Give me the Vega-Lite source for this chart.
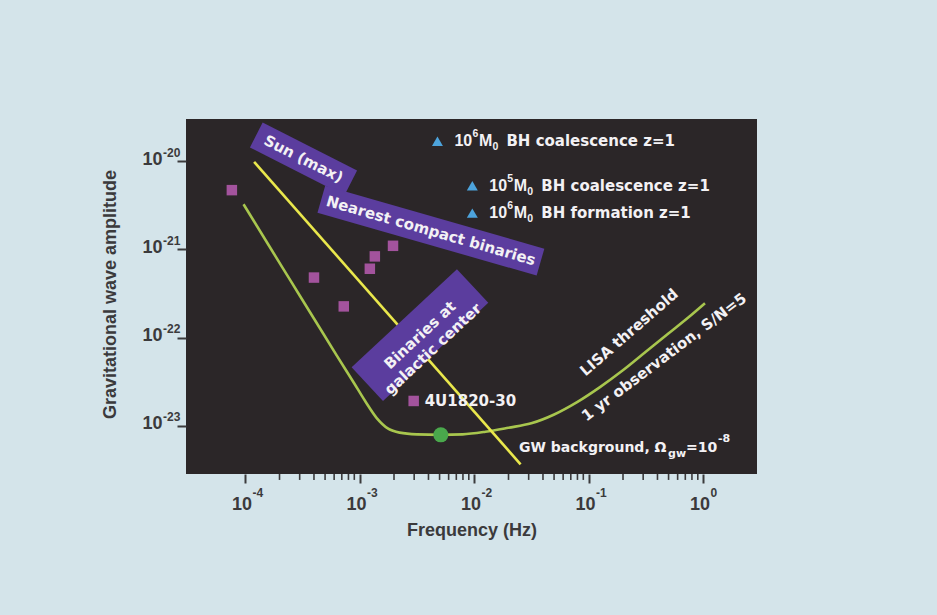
{
  "$schema": "https://vega.github.io/schema/vega-lite/v6.json",
  "width": 571,
  "height": 355,
  "autosize": "none",
  "padding": {"left": 186, "top": 119, "right": 180, "bottom": 141},
  "background": "#d4e4ea",
  "config": {
    "view": {"fill": "#2b2628", "stroke": null},
    "font": "Liberation Sans",
    "text": {"font": "DejaVu Sans", "fontWeight": "bold", "fontSize": 15, "fill": "#f3f1f4"}
  },
  "datasets": {
    "lisa": [
      {"f": 9.70e-5, "h": 3.236e-21},
      {"f": 1.585e-4, "h": 1.148e-21},
      {"f": 2.512e-4, "h": 4.365e-22},
      {"f": 3.981e-4, "h": 1.660e-22},
      {"f": 6.310e-4, "h": 6.310e-23},
      {"f": 8.913e-4, "h": 3.090e-23},
      {"f": 1.122e-3, "h": 1.905e-23},
      {"f": 1.413e-3, "h": 1.230e-23},
      {"f": 1.778e-3, "h": 9.33e-24},
      {"f": 2.239e-3, "h": 8.41e-24},
      {"f": 3.162e-3, "h": 8.04e-24},
      {"f": 5.129e-3, "h": 7.94e-24},
      {"f": 7.943e-3, "h": 8.04e-24},
      {"f": 1.259e-2, "h": 8.61e-24},
      {"f": 1.995e-2, "h": 9.55e-24},
      {"f": 3.162e-2, "h": 1.072e-23},
      {"f": 5.012e-2, "h": 1.349e-23},
      {"f": 7.943e-2, "h": 1.862e-23},
      {"f": 0.1259, "h": 2.754e-23},
      {"f": 0.1995, "h": 4.266e-23},
      {"f": 0.3162, "h": 6.918e-23},
      {"f": 0.5012, "h": 1.122e-22},
      {"f": 0.7943, "h": 1.820e-22},
      {"f": 1.040, "h": 2.455e-22}
    ],
    "sun": [
      {"f": 1.20e-4, "h": 9.8e-21},
      {"f": 2.55e-2, "h": 3.68e-24}
    ],
    "binaries": [
      {"f": 7.67e-5, "h": 4.68e-21, "label": ""},
      {"f": 4.0e-4, "h": 4.79e-22, "label": ""},
      {"f": 7.28e-4, "h": 2.26e-22, "label": ""},
      {"f": 1.23e-3, "h": 6.03e-22, "label": ""},
      {"f": 1.36e-3, "h": 8.32e-22, "label": ""},
      {"f": 1.96e-3, "h": 1.096e-21, "label": ""},
      {"f": 2.97e-3, "h": 1.92e-23, "label": "4U1820-30"}
    ],
    "background": [
      {"f": 5.129e-3, "h": 7.94e-24}
    ],
    "blackholes": [
      {"f": 4.79e-3, "h": 1.67e-20, "exp": "6", "rest": "BH   coalescence  z=1"},
      {"f": 9.66e-3, "h": 5.25e-21, "exp": "5", "rest": "BH   coalescence  z=1"},
      {"f": 9.66e-3, "h": 2.57e-21, "exp": "6", "rest": "BH   formation  z=1"}
    ],
    "minor": [
      {"f": 2e-4, "h": 2.86e-24}, {"f": 3e-4, "h": 2.86e-24}, {"f": 4e-4, "h": 2.86e-24}, {"f": 5e-4, "h": 2.86e-24},
      {"f": 6e-4, "h": 2.86e-24}, {"f": 7e-4, "h": 2.86e-24}, {"f": 8e-4, "h": 2.86e-24}, {"f": 9e-4, "h": 2.86e-24},
      {"f": 2e-3, "h": 2.86e-24}, {"f": 3e-3, "h": 2.86e-24}, {"f": 4e-3, "h": 2.86e-24}, {"f": 5e-3, "h": 2.86e-24},
      {"f": 6e-3, "h": 2.86e-24}, {"f": 7e-3, "h": 2.86e-24}, {"f": 8e-3, "h": 2.86e-24}, {"f": 9e-3, "h": 2.86e-24},
      {"f": 2e-2, "h": 2.86e-24}, {"f": 3e-2, "h": 2.86e-24}, {"f": 4e-2, "h": 2.86e-24}, {"f": 5e-2, "h": 2.86e-24},
      {"f": 6e-2, "h": 2.86e-24}, {"f": 7e-2, "h": 2.86e-24}, {"f": 8e-2, "h": 2.86e-24}, {"f": 9e-2, "h": 2.86e-24},
      {"f": 0.2, "h": 2.86e-24}, {"f": 0.3, "h": 2.86e-24}, {"f": 0.4, "h": 2.86e-24}, {"f": 0.5, "h": 2.86e-24},
      {"f": 0.6, "h": 2.86e-24}, {"f": 0.7, "h": 2.86e-24}, {"f": 0.8, "h": 2.86e-24}, {"f": 0.9, "h": 2.86e-24}
    ],
    "notes": [
      {"name": "sun", "f": 3.24e-4, "h": 1.054e-20, "text": "Sun  (max)"},
      {"name": "nearest", "f": 4.2e-3, "h": 1.626e-21, "text": "Nearest  compact  binaries"},
      {"name": "galactic", "f": 3.37e-3, "h": 1.07e-22, "text": "Binaries at\ngalactic center"},
      {"name": "lisa", "f": 0.226, "h": 1.148e-22, "text": "LISA  threshold"},
      {"name": "obs", "f": 0.456, "h": 6.03e-23, "text": "1 yr  observation,  S/N=5"},
      {"name": "gw", "f": 2.47e-2, "h": 5.62e-24, "text": "GW  background, Ω"}
    ]
  },
  "resolve": {"axis": {"x": "independent", "y": "independent"}},
  "layer": [
    {
      "encoding": {
        "x": {
          "field": "f",
          "type": "quantitative",
          "scale": {"type": "log", "domain": [3.05e-5, 2.96], "nice": false},
          "axis": {
            "orient": "bottom",
            "title": "Frequency (Hz)",
            "values": [0.0001, 0.001, 0.01, 0.1, 1],
            "labelExpr": "'10'",
            "domain": false,
            "grid": false,
            "tickSize": 9,
            "tickWidth": 2,
            "tickColor": "#3b3a3c",
            "labelFont": "Liberation Sans",
            "labelFontSize": 18,
            "labelFontWeight": "bold",
            "labelColor": "#3b3a3c",
            "labelPadding": 12,
            "labelOffset": -3.5,
            "labelOverlap": false,
            "labelFlush": false,
            "titleFont": "Liberation Sans",
            "titleFontSize": 18,
            "titleFontWeight": "bold",
            "titleColor": "#3b3a3c",
            "titleBaseline": "middle",
            "titleY": 56
          }
        },
        "y": {
          "field": "h",
          "type": "quantitative",
          "scale": {"type": "log", "domain": [2.86e-24, 2.99e-20], "nice": false},
          "axis": {
            "orient": "left",
            "title": "Gravitational wave amplitude",
            "values": [1e-23, 1e-22, 1e-21, 1e-20],
            "labelExpr": "'10'",
            "domain": false,
            "grid": false,
            "tickSize": 9,
            "tickWidth": 2,
            "tickColor": "#3b3a3c",
            "labelFont": "Liberation Sans",
            "labelFontSize": 18,
            "labelFontWeight": "bold",
            "labelColor": "#3b3a3c",
            "labelPadding": 15,
            "labelOffset": -2,
            "labelOverlap": false,
            "labelFlush": false,
            "titleFont": "Liberation Sans",
            "titleFontSize": 18,
            "titleFontWeight": "bold",
            "titleColor": "#3b3a3c",
            "titleAngle": 270,
            "titleAlign": "center",
            "titleBaseline": "middle",
            "titleX": -76,
            "titleY": 175
          }
        }
      },
      "layer": [
        {
          "data": {"name": "lisa"},
          "mark": {"type": "line", "color": "#a8c64e", "strokeWidth": 2.6, "interpolate": "monotone"}
        },
        {
          "data": {"name": "sun"},
          "mark": {"type": "line", "color": "#e9e74c", "strokeWidth": 2.6}
        },
        {
          "data": {"name": "notes"},
          "transform": [{"filter": "datum.name === 'sun'"}],
          "mark": {"type": "point", "shape": "M-53,-14L53,-14L53,14L-53,14Z", "size": 4, "angle": 27, "filled": true, "opacity": 1, "color": "#5b3d9e", "strokeWidth": 0}
        },
        {
          "data": {"name": "notes"},
          "transform": [{"filter": "datum.name === 'nearest'"}],
          "mark": {"type": "point", "shape": "M-114,-14L114,-14L114,14L-114,14Z", "size": 4, "angle": 16, "filled": true, "opacity": 1, "color": "#5b3d9e", "strokeWidth": 0}
        },
        {
          "data": {"name": "notes"},
          "transform": [{"filter": "datum.name === 'galactic'"}],
          "mark": {"type": "point", "shape": "M-72,-23L72,-23L72,23L-72,23Z", "size": 4, "angle": -43, "filled": true, "opacity": 1, "color": "#5b3d9e", "strokeWidth": 0}
        },
        {
          "data": {"name": "notes"},
          "transform": [{"filter": "datum.name === 'sun'"}],
          "mark": {"type": "text", "angle": 27, "align": "center", "baseline": "middle"},
          "encoding": {"text": {"field": "text"}}
        },
        {
          "data": {"name": "notes"},
          "transform": [{"filter": "datum.name === 'nearest'"}],
          "mark": {"type": "text", "angle": 16, "align": "center", "baseline": "middle"},
          "encoding": {"text": {"field": "text"}}
        },
        {
          "data": {"name": "notes"},
          "transform": [{"filter": "datum.name === 'galactic'"}],
          "mark": {"type": "text", "angle": -43, "align": "center", "baseline": "middle", "lineBreak": "\n", "lineHeight": 19},
          "encoding": {"text": {"field": "text"}}
        },
        {
          "data": {"name": "binaries"},
          "mark": {"type": "point", "shape": "square", "size": 110, "filled": true, "opacity": 1, "color": "#a3539d", "strokeWidth": 0}
        },
        {
          "data": {"name": "background"},
          "mark": {"type": "point", "shape": "circle", "size": 225, "filled": true, "opacity": 1, "color": "#4aa84c", "strokeWidth": 0}
        },
        {
          "data": {"name": "blackholes"},
          "mark": {"type": "point", "shape": "triangle-up", "size": 120, "filled": true, "opacity": 1, "color": "#4da3dc", "strokeWidth": 0}
        },
        {
          "data": {"name": "blackholes"},
          "mark": {"type": "text", "align": "left", "baseline": "middle", "font": "Liberation Sans", "fontSize": 16, "dx": 17, "text": "10"}
        },
        {
          "data": {"name": "blackholes"},
          "mark": {"type": "text", "align": "left", "baseline": "middle", "font": "Liberation Sans", "fontSize": 10.5, "dx": 35, "dy": -7},
          "encoding": {"text": {"field": "exp"}}
        },
        {
          "data": {"name": "blackholes"},
          "mark": {"type": "text", "align": "left", "baseline": "middle", "font": "Liberation Sans", "fontSize": 16, "dx": 41.5, "text": "M"}
        },
        {
          "data": {"name": "blackholes"},
          "mark": {"type": "text", "align": "left", "baseline": "middle", "font": "Liberation Sans", "fontSize": 10.5, "dx": 55, "dy": 6, "text": "0"}
        },
        {
          "data": {"name": "blackholes"},
          "mark": {"type": "text", "align": "left", "baseline": "middle", "dx": 69},
          "encoding": {"text": {"field": "rest"}}
        },
        {
          "data": {"name": "binaries"},
          "mark": {"type": "text", "align": "left", "baseline": "middle", "dx": 11},
          "encoding": {"text": {"field": "label"}}
        },
        {
          "data": {"name": "notes"},
          "transform": [{"filter": "datum.name === 'lisa'"}],
          "mark": {"type": "text", "angle": -41, "align": "center", "baseline": "middle"},
          "encoding": {"text": {"field": "text"}}
        },
        {
          "data": {"name": "notes"},
          "transform": [{"filter": "datum.name === 'obs'"}],
          "mark": {"type": "text", "angle": -37, "align": "center", "baseline": "middle"},
          "encoding": {"text": {"field": "text"}}
        },
        {
          "data": {"name": "notes"},
          "transform": [{"filter": "datum.name === 'gw'"}],
          "mark": {"type": "text", "align": "left", "baseline": "middle", "fontSize": 14},
          "encoding": {"text": {"field": "text"}}
        },
        {
          "data": {"name": "notes"},
          "transform": [{"filter": "datum.name === 'gw'"}],
          "mark": {"type": "text", "align": "left", "baseline": "middle", "fontSize": 11, "dx": 149, "dy": 6, "text": "gw"}
        },
        {
          "data": {"name": "notes"},
          "transform": [{"filter": "datum.name === 'gw'"}],
          "mark": {"type": "text", "align": "left", "baseline": "middle", "fontSize": 14, "dx": 167, "text": "=10"}
        },
        {
          "data": {"name": "notes"},
          "transform": [{"filter": "datum.name === 'gw'"}],
          "mark": {"type": "text", "align": "left", "baseline": "middle", "fontSize": 11, "dx": 199, "dy": -9, "text": "-8"}
        }
      ]
    },
    {
      "data": {"name": "minor"},
      "mark": {"type": "rule", "color": "#3b3a3c", "strokeWidth": 1.6},
      "encoding": {
        "x": {
          "field": "f",
          "type": "quantitative",
          "scale": {"type": "log", "domain": [3.05e-5, 2.96], "nice": false},
          "axis": {
            "orient": "bottom",
            "title": null,
            "values": [0.0001, 0.001, 0.01, 0.1, 1],
            "labelExpr": "datum.value < 5e-4 ? '-4' : datum.value < 5e-3 ? '-3' : datum.value < 5e-2 ? '-2' : datum.value < 0.5 ? '-1' : '0'",
            "domain": false,
            "grid": false,
            "ticks": false,
            "tickSize": 0,
            "labelFont": "Liberation Sans",
            "labelFontSize": 12,
            "labelFontWeight": "bold",
            "labelColor": "#3b3a3c",
            "labelAlign": "left",
            "labelBaseline": "top",
            "labelPadding": 13,
            "labelOffset": 7,
            "labelOverlap": false,
            "labelFlush": false
          }
        },
        "y": {
          "field": "h",
          "type": "quantitative",
          "scale": {"type": "log", "domain": [2.86e-24, 2.99e-20], "nice": false},
          "axis": {
            "orient": "left",
            "title": null,
            "values": [1e-23, 1e-22, 1e-21, 1e-20],
            "labelExpr": "datum.value < 5e-23 ? '-23' : datum.value < 5e-22 ? '-22' : datum.value < 5e-21 ? '-21' : '-20'",
            "domain": false,
            "grid": false,
            "ticks": false,
            "tickSize": 0,
            "labelFont": "Liberation Sans",
            "labelFontSize": 12,
            "labelFontWeight": "bold",
            "labelColor": "#3b3a3c",
            "labelAlign": "left",
            "labelBaseline": "middle",
            "labelPadding": 23.5,
            "labelOffset": -9,
            "labelOverlap": false,
            "labelFlush": false
          }
        },
        "y2": {"datum": 2.45e-24}
      }
    }
  ]
}
